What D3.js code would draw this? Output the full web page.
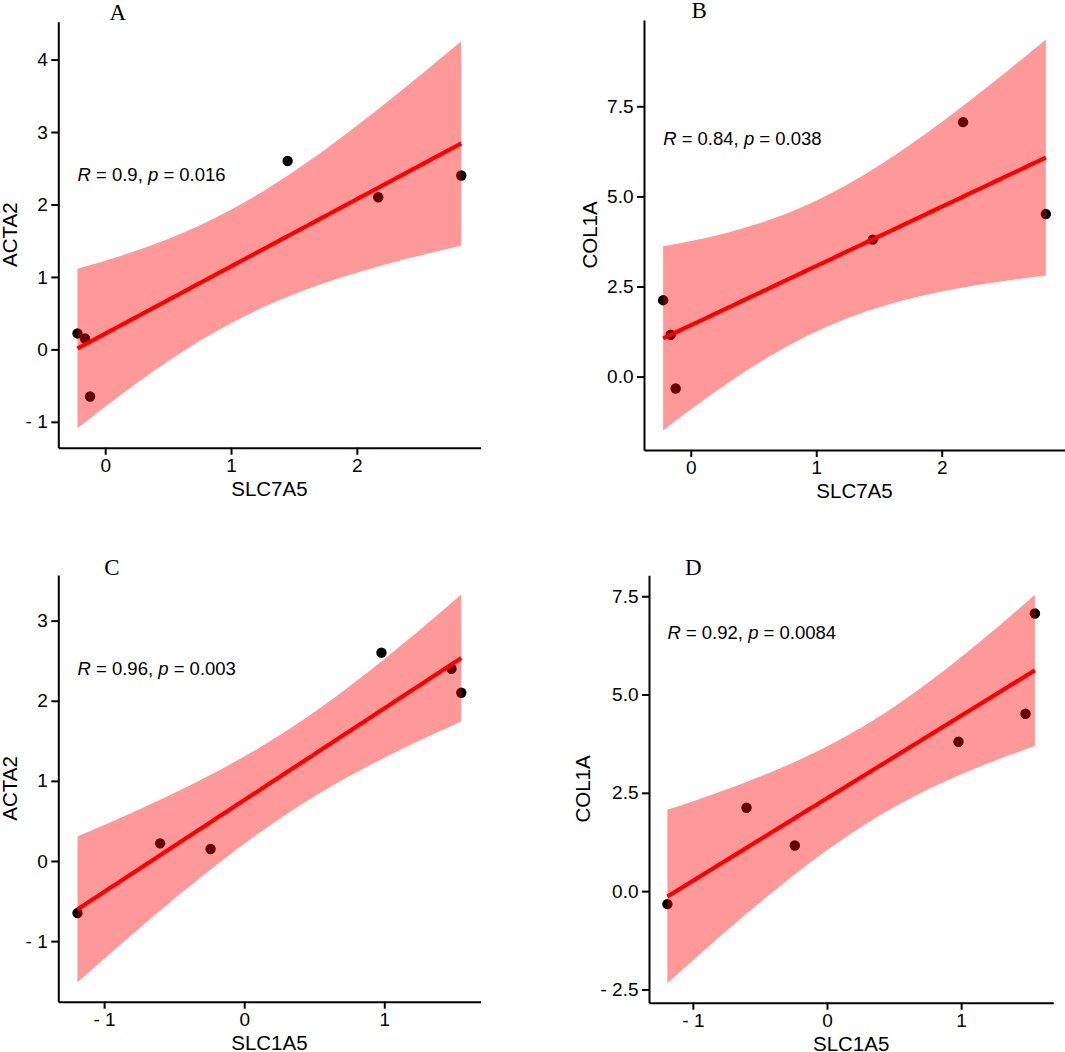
<!DOCTYPE html>
<html>
<head>
<meta charset="utf-8">
<script src="https://cdn.jsdelivr.net/npm/d3@7"></script>
<style>
  html, body { margin: 0; padding: 0; background: #fff; }
  svg { display: block; }
</style>
</head>
<body>
<svg id="chart" width="1065" height="1052"></svg>
<script>
// ---------------- data ----------------
const SLC7A5 = [-0.22, -0.16, -0.12, 1.45, 2.17, 2.83];
const SLC1A5 = [-0.60, -0.24, -1.19, 0.98, 1.55, 1.48];
const ACTA2  = [0.22, 0.15, -0.65, 2.60, 2.10, 2.40];
const COL1A  = [2.12, 1.16, -0.33, 3.80, 7.06, 4.51];

const panelLetters = ["A", "B", "C", "D"];
const xNames = ["SLC7A5", "SLC7A5", "SLC1A5", "SLC1A5"];
const yNames = ["ACTA2", "COL1A", "ACTA2", "COL1A"];
const rValues = ["0.9", "0.84", "0.96", "0.92"];
const pValues = ["0.016", "0.038", "0.003", "0.0084"];
const xTicksA = [0, 1, 2];
const xTicksC = [-1, 0, 1];
const yTicksACTA2_A = [-1, 0, 1, 2, 3, 4];
const yTicksCOL1A_B = [0, 2.5, 5, 7.5];
const yTicksACTA2_C = [-1, 0, 1, 2, 3];
const yTicksCOL1A_D = [-2.5, 0, 2.5, 5, 7.5];

const dataX = { SLC7A5, SLC1A5 };
const dataY = { ACTA2, COL1A };
const xTickSets = [xTicksA, xTicksA, xTicksC, xTicksC];
const yTickSets = [yTicksACTA2_A, yTicksCOL1A_B, yTicksACTA2_C, yTicksCOL1A_D];
const yDecimals = [0, 1, 0, 1];

// ---------------- layout (pixel boxes of each panel) ----------------
const boxes = [
  { left: 58.3, right: 480.5, top: 21.7, bottom: 447.7, letterX: 109.5, letterY: 19.5, yTitleGap: 41.8 },
  { left: 644,  right: 1065,  top: 20,   bottom: 450,   letterX: 691.5, letterY: 17.5, yTitleGap: 47.5 },
  { left: 58.3, right: 480.5, top: 575,  bottom: 1001.7, letterX: 104.3, letterY: 575, yTitleGap: 41.8 },
  { left: 649,  right: 1053.3, top: 575.3, bottom: 1002.7, letterX: 685, letterY: 575.3, yTitleGap: 59 }
];

const SANS = '"Liberation Sans", Arial, sans-serif';
const SERIF = '"Liberation Serif", "Times New Roman", serif';

const svg = d3.select("#chart");

// t quantile 0.975 for df = n-2 = 4
const T975 = { 4: 2.776445 };

function fmtTick(d, dec) {
  const s = Math.abs(d).toFixed(dec);
  return d < 0 ? "- " + s : s;
}

function linearFit(xs, ys) {
  const n = xs.length;
  const mx = d3.mean(xs), my = d3.mean(ys);
  let sxx = 0, sxy = 0;
  for (let i = 0; i < n; i++) { sxx += (xs[i] - mx) ** 2; sxy += (xs[i] - mx) * (ys[i] - my); }
  const b = sxy / sxx, a = my - b * mx;
  let sse = 0;
  for (let i = 0; i < n; i++) sse += (ys[i] - (a + b * xs[i])) ** 2;
  const s = Math.sqrt(sse / (n - 2));
  const t = T975[n - 2];
  const [x0, x1] = d3.extent(xs);
  const grid = d3.range(80).map(i => x0 + (x1 - x0) * i / 79);
  const band = grid.map(x => {
    const yh = a + b * x;
    const se = s * Math.sqrt(1 / n + (x - mx) ** 2 / sxx);
    return { x, y: yh, lo: yh - t * se, hi: yh + t * se };
  });
  return { a, b, band };
}

const FS_TICK = 19, FS_TITLE = 20.5, FS_STAT = 18.5;

panelLetters.forEach((letter, i) => {
  const box = boxes[i];
  const xs = dataX[xNames[i]];
  const ys = dataY[yNames[i]];
  const fit = linearFit(xs, ys);

  // domains: data + ribbon, expanded 5% like ggplot
  const [xmin, xmax] = d3.extent(xs);
  const xpad = (xmax - xmin) * 0.05;
  const ymin = Math.min(d3.min(ys), d3.min(fit.band, d => d.lo));
  const ymax = Math.max(d3.max(ys), d3.max(fit.band, d => d.hi));
  const ypad = (ymax - ymin) * 0.05;

  const x = d3.scaleLinear().domain([xmin - xpad, xmax + xpad]).range([box.left, box.right]);
  const y = d3.scaleLinear().domain([ymin - ypad, ymax + ypad]).range([box.bottom, box.top]);

  const g = svg.append("g");

  // points (drawn first, ribbon over them as in ggplot)
  g.append("g").selectAll("circle").data(xs.map((v, k) => [v, ys[k]])).join("circle")
    .attr("cx", d => x(d[0])).attr("cy", d => y(d[1])).attr("r", 5.2)
    .attr("fill", "#000");

  // confidence ribbon
  g.append("path").datum(fit.band)
    .attr("d", d3.area().x(d => x(d.x)).y0(d => y(d.lo)).y1(d => y(d.hi)))
    .attr("fill", "#ff0000").attr("fill-opacity", 0.4);

  // regression line
  g.append("path").datum(fit.band)
    .attr("d", d3.line().x(d => x(d.x)).y(d => y(d.y)))
    .attr("fill", "none").attr("stroke", "#ff0000").attr("stroke-width", 4.2);

  // axes
  const xAxis = d3.axisBottom(x).tickValues(xTickSets[i]).tickSize(7).tickSizeOuter(0).tickPadding(4)
    .tickFormat(d => fmtTick(d, 0));
  const yAxis = d3.axisLeft(y).tickValues(yTickSets[i]).tickSize(7).tickSizeOuter(0).tickPadding(3.5)
    .tickFormat(d => fmtTick(d, yDecimals[i]));

  const gx = g.append("g").attr("transform", `translate(0,${box.bottom})`).call(xAxis);
  const gy = g.append("g").attr("transform", `translate(${box.left},0)`).call(yAxis);
  [gx, gy].forEach(a => {
    a.attr("font-family", null).attr("font-size", null);
    a.select(".domain").attr("stroke", "#000").attr("stroke-width", 2);
    a.selectAll(".tick line").attr("stroke", "#000").attr("stroke-width", 2);
    a.selectAll(".tick text").style("font-size", FS_TICK + "px").attr("fill", "#000")
      .style("font-family", SANS);
  });

  // axis titles
  g.append("text")
    .attr("x", (box.left + box.right) / 2).attr("y", box.bottom + 48)
    .attr("text-anchor", "middle").style("font-family", SANS).style("font-size", FS_TITLE + "px")
    .attr("fill", "#000").text(xNames[i]);
  g.append("text")
    .attr("transform", `translate(${box.left - box.yTitleGap},${(box.top + box.bottom) / 2}) rotate(-90)`)
    .attr("text-anchor", "middle").style("font-family", SANS).style("font-size", FS_TITLE + "px")
    .attr("fill", "#000").text(yNames[i]);

  // correlation label (left at min x, bottom at 90% of y data range)
  const [dymin, dymax] = d3.extent(ys);
  const labY = y(dymin + 0.9 * (dymax - dymin)) - 4;
  const t = g.append("text").attr("x", x(xmin)).attr("y", labY)
    .style("font-family", SANS).style("font-size", FS_STAT + "px").attr("fill", "#000");
  t.append("tspan").style("font-style", "italic").text("R");
  t.append("tspan").text(" = " + rValues[i] + ", ");
  t.append("tspan").style("font-style", "italic").text("p");
  t.append("tspan").text(" = " + pValues[i]);

  // panel letter
  g.append("text")
    .attr("x", box.letterX).attr("y", box.letterY)
    .style("font-family", SERIF).style("font-size", "23px")
    .attr("fill", "#000").text(letter);
});
</script>
</body>
</html>
